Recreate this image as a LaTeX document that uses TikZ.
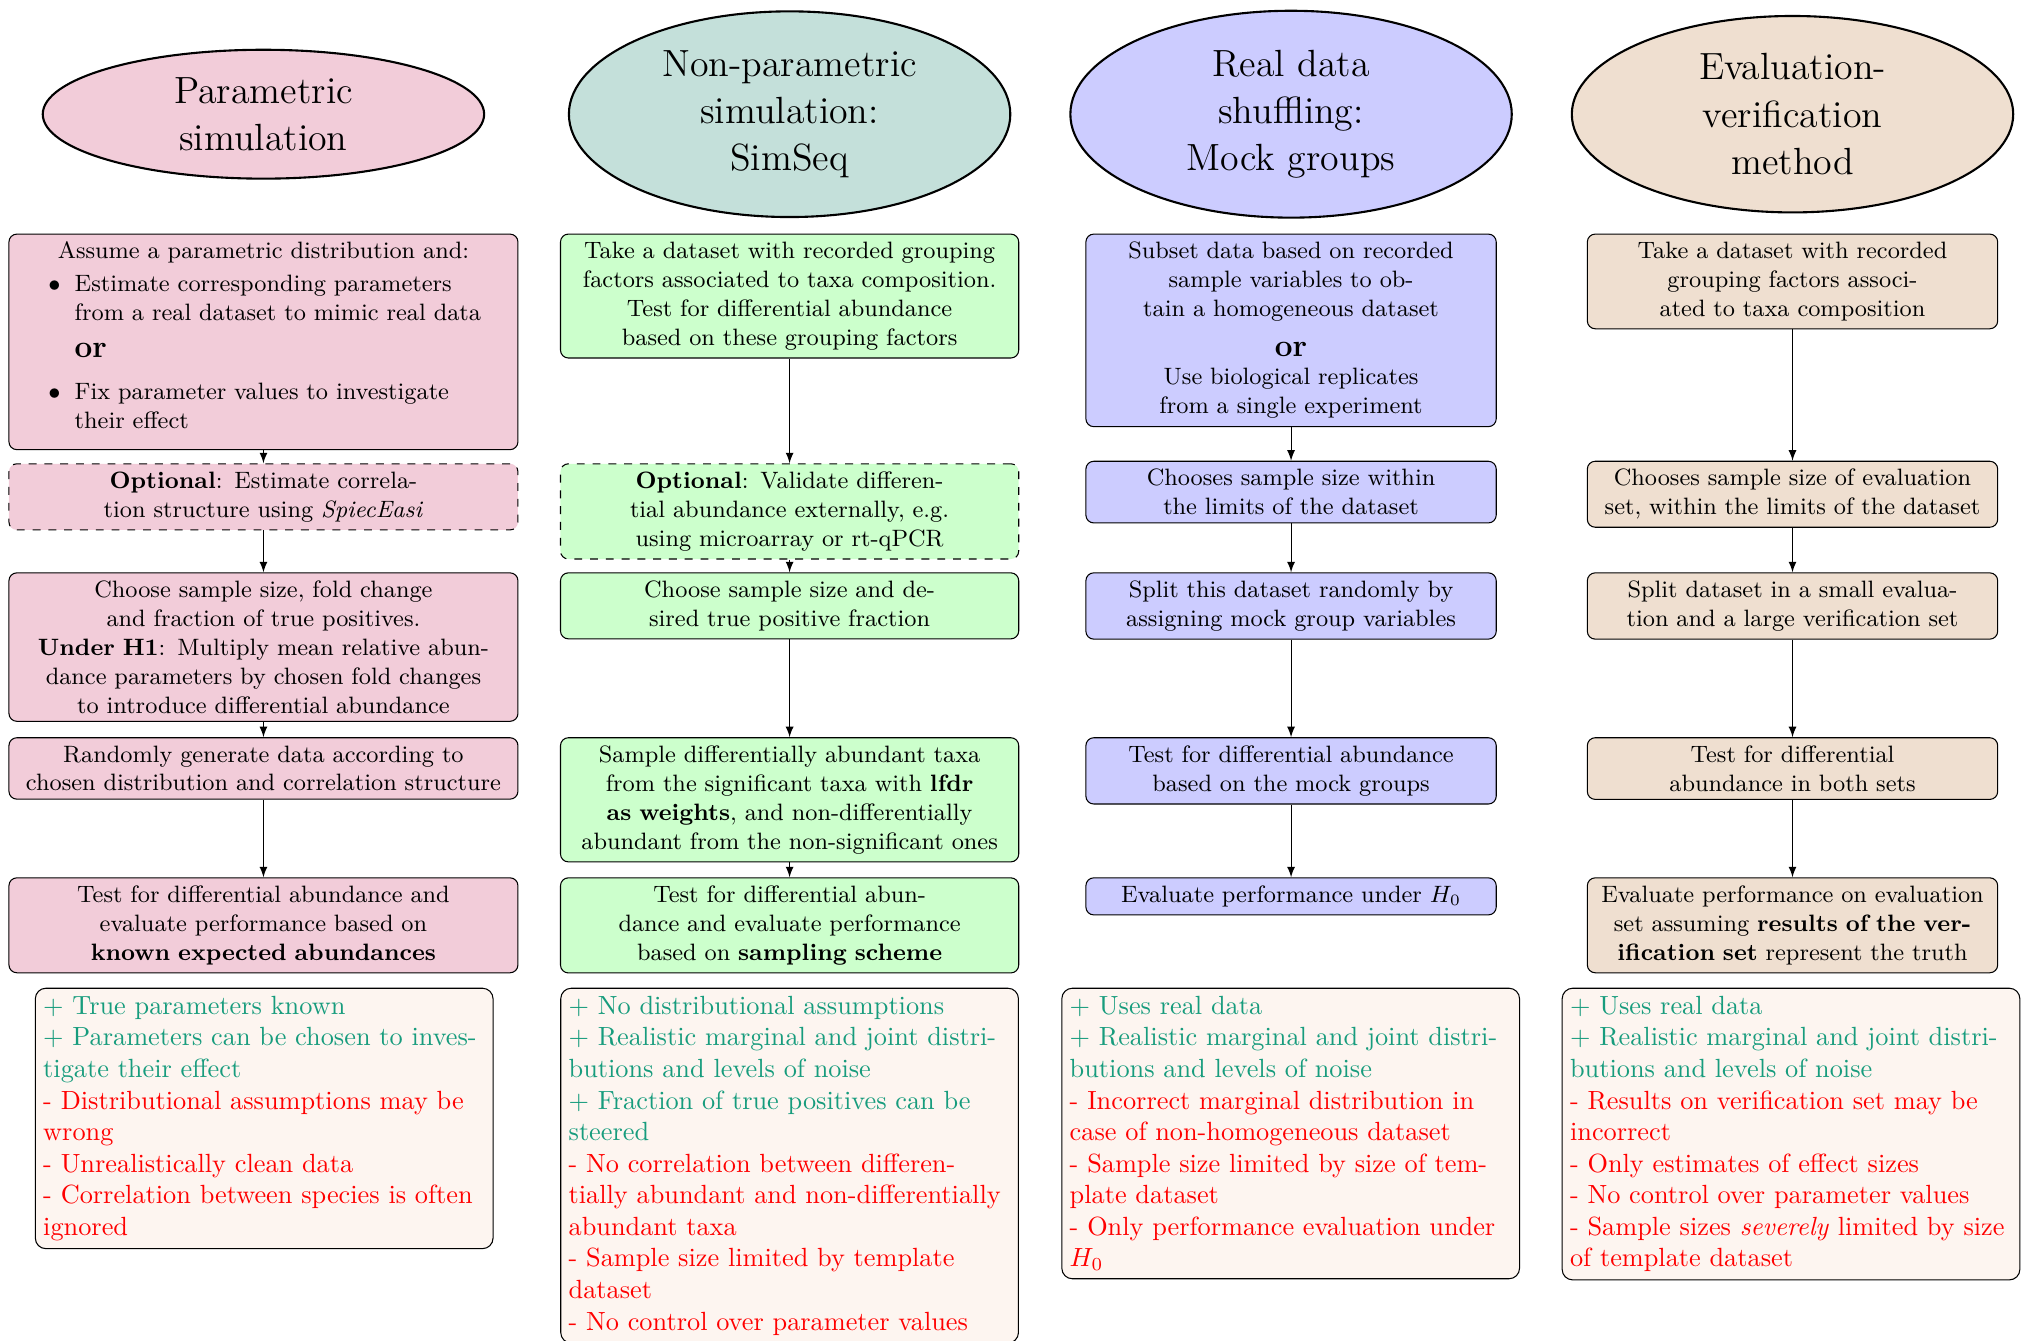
\documentclass[tikz,border=0pt]{standalone}
\usepackage{tikz}
\usetikzlibrary{shapes.geometric}

\definecolor{simfill}{HTML}{C4E0DA}
\definecolor{evfill}{HTML}{EFDFD0}
\definecolor{profill}{HTML}{FDF5F0}
\definecolor{good}{HTML}{179C7D}

\begin{document}
\begin{tikzpicture}[
    ell/.style={ellipse, draw, thick, minimum width=167.8pt, align=center, font=\Large},
    stepbox/.style={draw, rounded corners=3pt, align=center, font=\small, inner sep=3pt, anchor=north},
    optbox/.style={stepbox, dashed},
    probox/.style={draw, rounded corners=4pt, fill=profill, align=left, text width=168pt, inner sep=3pt, anchor=north},
    arr/.style={-latex}
]
    \useasboundingbox (0,0) rectangle (27.19,-17.91);

    % Methods
    \node[ell, fill=purple!20] (e1) at (3.52,-1.526) {Parametric\\simulation};
    \node[ell, fill=simfill] (e2) at (10.55,-1.526) {Non-parametric\\simulation:\\SimSeq};
    \node[ell, fill=blue!20] (e3) at (17.25,-1.526) {Real data\\shuffling:\\Mock groups};
    \node[ell, fill=evfill] (e4) at (23.95,-1.526) {Evaluation-\\verification\\method};

    % Parametric simulation
    \node[stepbox, fill=purple!20, text width=187.5pt, align=left] (p1) at (3.52,-3.121) {%
        {\centering Assume a parametric distribution and:\par}\vspace{1.5pt}
        \hspace*{12pt}\makebox[10pt][l]{$\bullet$}Estimate corresponding parameters\\
        \hspace*{22pt}from a real dataset to mimic real data\\[3pt]
        \hspace*{22pt}{\large\bfseries or}\\[5pt]
        \hspace*{12pt}\makebox[10pt][l]{$\bullet$}Fix parameter values to investigate\\
        \hspace*{22pt}their effect\rule[-5pt]{0pt}{1pt}};
    \node[optbox, fill=purple!20, text width=187.5pt] (p2) at (3.52,-6.19) {\textbf{Optional}: Estimate correla-\\tion structure using \textit{SpiecEasi}};
    \node[stepbox, fill=purple!20, text width=187.5pt] (p3) at (3.52,-7.647) {Choose sample size, fold change\\and fraction of true positives.\\\textbf{Under H1}: Multiply mean relative abun-\\dance parameters by chosen fold changes\\to introduce differential abundance};
    \node[stepbox, fill=purple!20, text width=187.5pt] (p4) at (3.52,-9.85) {Randomly generate data according to\\chosen distribution and correlation structure};
    \node[stepbox, fill=purple!20, text width=187.5pt] (p5) at (3.52,-11.722) {Test for differential abundance and\\evaluate performance based on\\\textbf{known expected abundances}};
    \node[probox] (p6) at (3.53,-13.197) {\color{good}+ True parameters known\\+ Parameters can be chosen to inves-\\tigate their effect\\
        \color{red}- Distributional assumptions may be\\wrong\\- Unrealistically clean data\\- Correlation between species is often\\ignored};

    % Non-parametric simulation
    \node[stepbox, fill=green!20, text width=168.2pt] (n1) at (10.55,-3.121) {Take a dataset with recorded grouping\\factors associated to taxa composition.\\Test for differential abundance\\based on these grouping factors};
    \node[optbox, fill=green!20, text width=168.2pt] (n2) at (10.55,-6.19) {\textbf{Optional}: Validate differen-\\tial abundance externally, e.g.\\using microarray or rt-qPCR};
    \node[stepbox, fill=green!20, text width=168.2pt] (n3) at (10.55,-7.647) {Choose sample size and de-\\sired true positive fraction};
    \node[stepbox, fill=green!20, text width=168.2pt] (n4) at (10.55,-9.85) {Sample differentially abundant taxa\\from the significant taxa with \textbf{lfdr}\\\textbf{as weights}, and non-differentially\\abundant from the non-significant ones};
    \node[stepbox, fill=green!20, text width=168.2pt] (n5) at (10.55,-11.722) {Test for differential abun-\\dance and evaluate performance\\based on \textbf{sampling scheme}};
    \node[probox] (n6) at (10.55,-13.197) {\color{good}+ No distributional assumptions\\+ Realistic marginal and joint distri-\\butions and levels of noise\\+ Fraction of true positives can be\\steered\\
        \color{red}- No correlation between differen-\\tially abundant and non-differentially\\abundant taxa\\- Sample size limited by template\\dataset\\- No control over parameter values};

    % Real data shuffling
    \node[stepbox, fill=blue!20, text width=150pt] (r1) at (17.25,-3.121) {Subset data based on recorded\\sample variables to ob-\\tain a homogeneous dataset\\[4pt]{\large\bfseries or}\\Use biological replicates\\from a single experiment};
    \node[stepbox, fill=blue!20, text width=150pt] (r2) at (17.25,-6.156) {Chooses sample size within\\the limits of the dataset};
    \node[stepbox, fill=blue!20, text width=150pt] (r3) at (17.25,-7.647) {Split this dataset randomly by\\assigning mock group variables};
    \node[stepbox, fill=blue!20, text width=150pt] (r4) at (17.25,-9.85) {Test for differential abundance\\based on the mock groups};
    \node[stepbox, fill=blue!20, text width=150pt] (r5) at (17.25,-11.722) {Evaluate performance under $H_0$};
    \node[probox] (r6) at (17.245,-13.197) {\color{good}+ Uses real data\\+ Realistic marginal and joint distri-\\butions and levels of noise\\
        \color{red}- Incorrect marginal distribution in\\case of non-homogeneous dataset\\- Sample size limited by size of tem-\\plate dataset\\- Only performance evaluation under\\$H_0$};

    % Evaluation-verification
    \node[stepbox, fill=evfill, text width=150pt] (v1) at (23.95,-3.121) {Take a dataset with recorded\\grouping factors associ-\\ated to taxa composition};
    \node[stepbox, fill=evfill, text width=150pt] (v2) at (23.95,-6.156) {Chooses sample size of evaluation\\set, within the limits of the dataset};
    \node[stepbox, fill=evfill, text width=150pt] (v3) at (23.95,-7.647) {Split dataset in a small evalua-\\tion and a large verification set};
    \node[stepbox, fill=evfill, text width=150pt] (v4) at (23.95,-9.85) {Test for differential\\abundance in both sets};
    \node[stepbox, fill=evfill, text width=150pt] (v5) at (23.95,-11.722) {Evaluate performance on evaluation\\set assuming \textbf{results of the ver-}\\\textbf{ification set} represent the truth};
    \node[probox] (v6) at (23.93,-13.197) {\color{good}+ Uses real data\\+ Realistic marginal and joint distri-\\butions and levels of noise\\
        \color{red}- Results on verification set may be\\incorrect\\- Only estimates of effect sizes\\- No control over parameter values\\- Sample sizes \textit{severely} limited by size\\of template dataset};

    % Arrows
    \foreach \c in {p,n,r,v}
        \foreach \i/\j in {1/2,2/3,3/4,4/5}
            \draw[arr] (\c\i) -- (\c\j);
\end{tikzpicture}
\end{document}
